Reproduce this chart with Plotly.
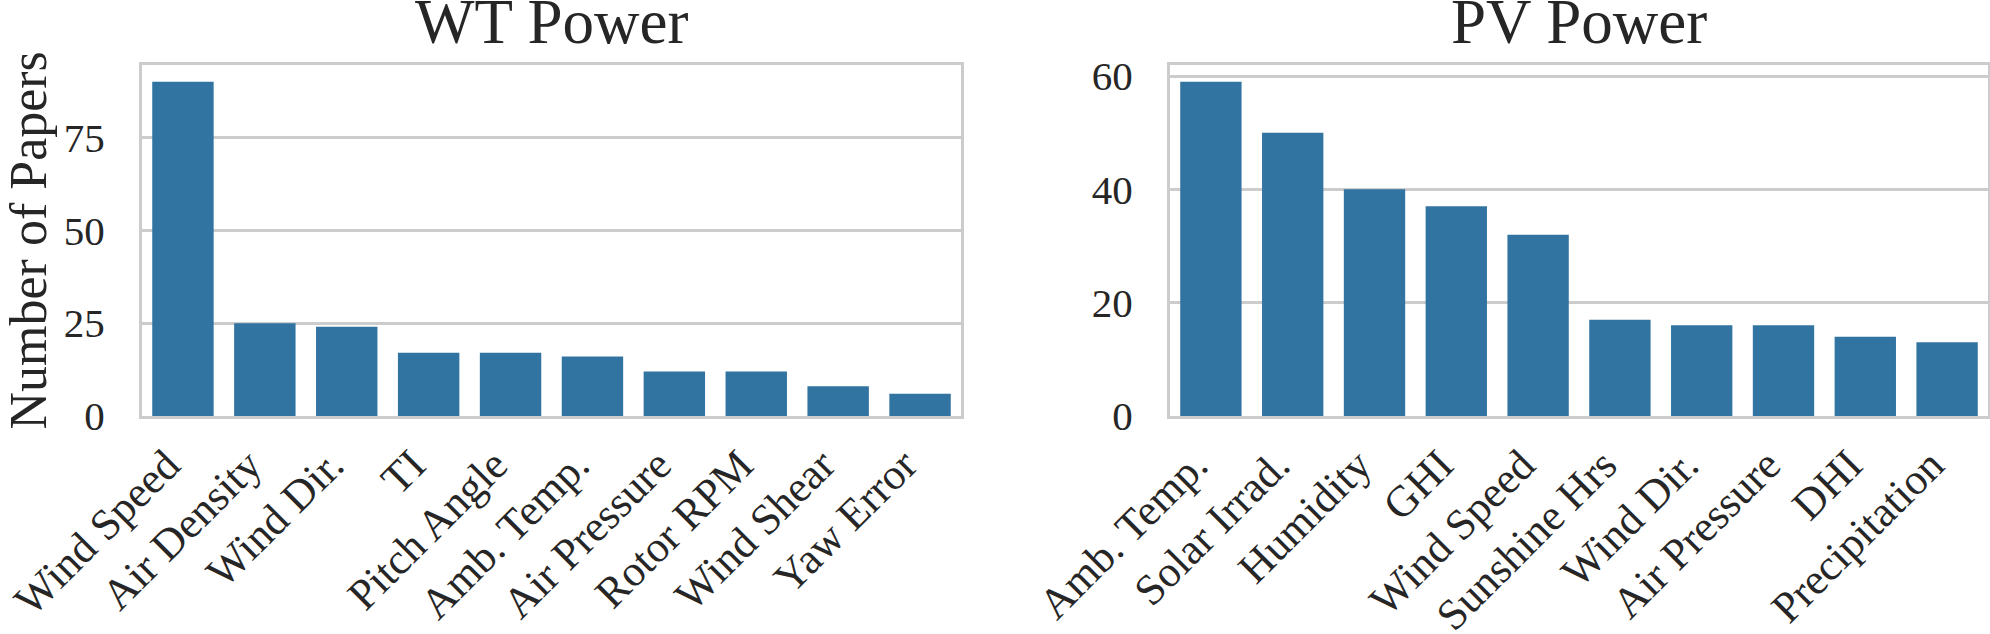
import plotly.graph_objects as go
from plotly.subplots import make_subplots

wt_features = ["Wind Speed", "Air Density", "Wind Dir.", "TI", "Pitch Angle",
               "Amb. Temp.", "Air Pressure", "Rotor RPM", "Wind Shear", "Yaw Error"]
wt_counts = [90, 25, 24, 17, 17, 16, 12, 12, 8, 6]

pv_features = ["Amb. Temp.", "Solar Irrad.", "Humidity", "GHI", "Wind Speed",
               "Sunshine Hrs", "Wind Dir.", "Air Pressure", "DHI", "Precipitation"]
pv_counts = [59, 50, 40, 37, 32, 17, 16, 16, 14, 13]

wt_yticks = [0, 25, 50, 75]
pv_yticks = [0, 20, 40, 60]

BAR = "#3274a1"
GRID = "#cccccc"
TXT = "#262626"
FONT = "Liberation Serif"

W, H = 1990, 634
ML, MR, MT, MB = 142, 2, 65, 218
PW = W - ML - MR

fig = make_subplots(rows=1, cols=2)
fig.add_trace(go.Bar(x=wt_features, y=wt_counts, marker=dict(color=BAR, line=dict(width=0)),
                     width=0.75, showlegend=False), row=1, col=1)
fig.add_trace(go.Bar(x=pv_features, y=pv_counts, marker=dict(color=BAR, line=dict(width=0)),
                     width=0.75, showlegend=False), row=1, col=2)

x1_end = (961 - ML) / PW
x2_start = (1170 - ML) / PW

common_x = dict(showline=True, linecolor=GRID, linewidth=3, mirror=True, showgrid=False,
                tickangle=-45, tickfont=dict(family=FONT, size=43.5, color=TXT),
                range=[-0.5, 9.5], ticks="", ticklabelstandoff=3, ticklabelshift=-16,
                automargin=False)
common_y = dict(showline=True, linecolor=GRID, linewidth=3, mirror=True, showgrid=True,
                gridcolor=GRID, gridwidth=2.6, zeroline=False,
                tickfont=dict(family=FONT, size=41, color=TXT), ticks="",
                ticklabelstandoff=26, automargin=False)

fig.update_xaxes(**common_x, domain=[0, x1_end], row=1, col=1)
fig.update_xaxes(**common_x, domain=[x2_start, 1], row=1, col=2)
fig.update_yaxes(**common_y, range=[0, max(wt_counts) * 1.05], tickvals=wt_yticks, row=1, col=1)
fig.update_yaxes(**common_y, range=[0, max(pv_counts) * 1.05], tickvals=pv_yticks, row=1, col=2)

annotations = [
    dict(text="WT Power", x=x1_end / 2, y=1, xref="paper", yref="paper",
         xanchor="center", yanchor="bottom", yshift=6, showarrow=False,
         font=dict(family=FONT, size=63, color=TXT)),
    dict(text="PV Power", x=(x2_start + 1) / 2, y=1, xref="paper", yref="paper",
         xanchor="center", yanchor="bottom", yshift=6, showarrow=False,
         font=dict(family=FONT, size=63, color=TXT)),
    dict(text="Number of Papers", x=(28 - ML) / PW, y=0.5, xref="paper", yref="paper",
         xanchor="center", yanchor="middle", textangle=-90, showarrow=False,
         font=dict(family=FONT, size=52, color=TXT)),
]

fig.update_layout(width=W, height=H, margin=dict(l=ML, r=MR, t=MT, b=MB),
                  plot_bgcolor="white", paper_bgcolor="white", bargap=0.25,
                  annotations=annotations, font=dict(family=FONT, color=TXT))

fig.write_html("out.html")
